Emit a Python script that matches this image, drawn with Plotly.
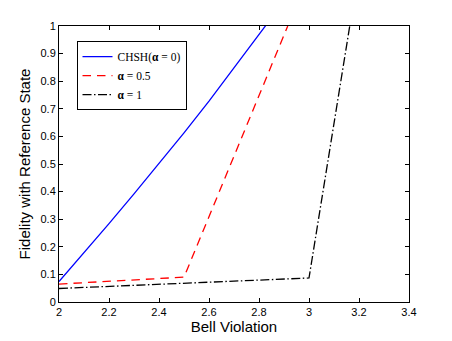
import plotly.graph_objects as go

# data kurva
bell_chsh = [2.0, 2.1, 2.2, 2.3, 2.4, 2.5, 2.6, 2.7, 2.8, 2.9]
fid_chsh = [0.074, 0.178, 0.284, 0.392, 0.502, 0.613, 0.728, 0.847, 0.968, 1.09]

bell_half = [2.0, 2.5, 2.915]
fid_half = [0.065, 0.09, 1.0]

bell_one = [2.0, 3.0, 3.163]
fid_one = [0.049, 0.087, 1.0]

x_ticks = [2, 2.2, 2.4, 2.6, 2.8, 3, 3.2, 3.4]
y_ticks = [0, 0.1, 0.2, 0.3, 0.4, 0.5, 0.6, 0.7, 0.8, 0.9, 1]

fig = go.Figure()
fig.add_trace(go.Scatter(x=bell_chsh, y=fid_chsh, mode="lines",
                         name="CHSH(<b>α</b> = 0)",
                         line=dict(color="#0000ff", width=1.3)))
fig.add_trace(go.Scatter(x=bell_half, y=fid_half, mode="lines",
                         name="<b>α</b> = 0.5",
                         line=dict(color="#ff0000", width=1.3, dash="8.5px,6px")))
fig.add_trace(go.Scatter(x=bell_one, y=fid_one, mode="lines",
                         name="<b>α</b> = 1",
                         line=dict(color="#000000", width=1.3, dash="9px,2.5px,1.5px,2.5px")))

axis_style = dict(showline=True, linecolor="black", linewidth=1, mirror="ticks",
                  ticks="inside", ticklen=4, tickcolor="black", showgrid=False,
                  zeroline=False, automargin=False,
                  tickfont=dict(family="Liberation Sans", size=11, color="black"))

fig.update_xaxes(range=[2, 3.4], tickvals=x_ticks, ticktext=[f"{v:g}" for v in x_ticks],
                 title=dict(text="Bell Violation", font=dict(family="Liberation Sans", size=15, color="black"),
                            standoff=2),
                 **axis_style)
fig.update_yaxes(range=[0, 1], tickvals=y_ticks, ticktext=[f"{v:g}" for v in y_ticks],
                 title=dict(text="Fidelity with Reference State",
                            font=dict(family="Liberation Sans", size=15, color="black"), standoff=6),
                 **axis_style)

# halaman html punya margin body 8px, jadi ukuran figur dikurangi
fig.update_layout(
    width=444, height=333,
    margin=dict(l=51, r=43, t=18, b=39),
    paper_bgcolor="white", plot_bgcolor="white",
    showlegend=True,
    legend=dict(x=0.05, y=0.945, xanchor="left", yanchor="top",
                bgcolor="white", bordercolor="black", borderwidth=1,
                font=dict(family="Liberation Serif", size=11.5, color="black"),
                tracegroupgap=0, itemwidth=30),
)

fig.write_html("out.html")
